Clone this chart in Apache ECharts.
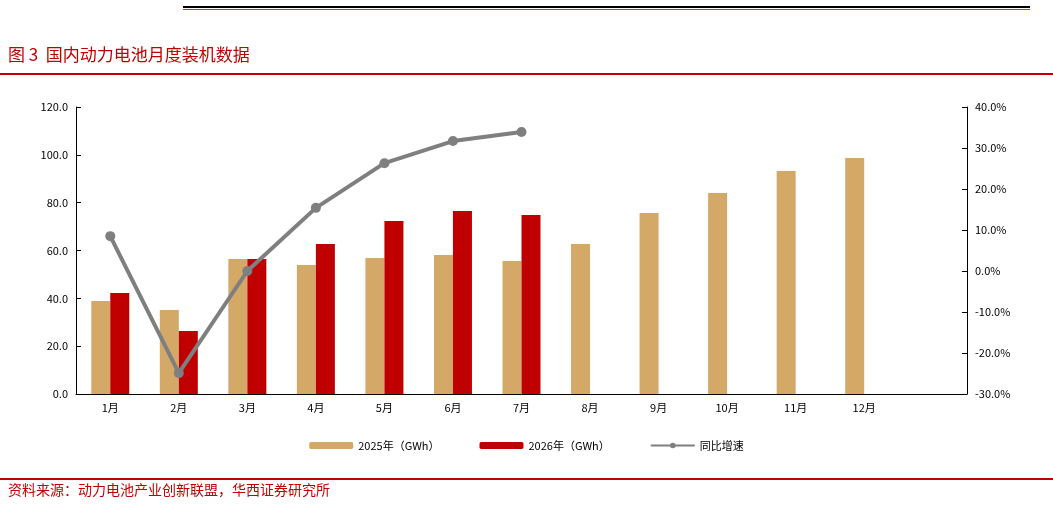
<!DOCTYPE html>
<html><head><meta charset="utf-8">
<script src="https://cdn.jsdelivr.net/npm/echarts@6/dist/echarts.min.js"></script>
<style>html,body{margin:0;padding:0;background:#fff}#c{width:1053px;height:506px}</style>
</head><body><div id="c"></div>
<script>
const categories = ['1月','2月','3月','4月','5月','6月','7月','8月','9月','10月','11月','12月',''];
const v2025 = [38.9,35.1,56.4,53.9,56.9,58.1,55.6,62.7,75.7,84.0,93.2,98.7,null];
const v2026 = [42.2,26.3,56.4,62.7,72.3,76.5,74.8,null,null,null,null,null,null];
const yoy = [8.5,-24.9,0.0,15.4,26.3,31.7,33.9,null,null,null,null,null,null];
const font = '"Noto Sans CJK SC", sans-serif';
const chart = echarts.init(document.getElementById('c'));
chart.setOption({
  animation:false,
  textStyle:{fontFamily:font},
  grid:{left:76,right:86,top:107,bottom:112},
  legend:{bottom:50,left:'center',itemWidth:44,itemHeight:7,itemGap:40,textStyle:{fontSize:11,color:'#000'},
    data:['2025年（GWh）','2026年（GWh）','同比增速']},
  xAxis:{type:'category',data:categories,axisTick:{show:false},
    axisLine:{lineStyle:{color:'#000'}},axisLabel:{color:'#000',fontSize:11}},
  yAxis:[
    {type:'value',min:0,max:120,interval:20,splitLine:{show:false},axisLine:{show:true,lineStyle:{color:'#000'}},
     axisTick:{show:true,inside:true},axisLabel:{color:'#000',fontSize:11,formatter:v=>v.toFixed(1)}},
    {type:'value',min:-30,max:40,interval:10,splitLine:{show:false},axisLine:{show:true,lineStyle:{color:'#000'}},
     axisTick:{show:true,inside:true},axisLabel:{color:'#000',fontSize:11,formatter:v=>v.toFixed(1)+'%'}}
  ],
  series:[
    {name:'2025年（GWh）',type:'bar',data:v2025,barWidth:19,barGap:'0%',itemStyle:{color:'#D4A967'}},
    {name:'2026年（GWh）',type:'bar',data:v2026,barWidth:19,itemStyle:{color:'#C00000'}},
    {name:'同比增速',type:'line',yAxisIndex:1,data:yoy,symbol:'circle',symbolSize:10,
     lineStyle:{color:'#7F7F7F',width:4},itemStyle:{color:'#7F7F7F'}}
  ],
  graphic:[
    {type:'rect',shape:{x:183,y:6,width:847,height:2},style:{fill:'#000'}},
    {type:'rect',shape:{x:183,y:9,width:847,height:1},style:{fill:'#7F6000'}},
    {type:'text',left:8,top:46,style:{text:'图 3  国内动力电池月度装机数据',fill:'#C00000',fontSize:17,fontFamily:font}},
    {type:'rect',shape:{x:0,y:73,width:1053,height:2},style:{fill:'#C00000'}},
    {type:'rect',shape:{x:0,y:478,width:1053,height:2},style:{fill:'#C00000'}},
    {type:'text',left:8,top:483,style:{text:'资料来源：动力电池产业创新联盟，华西证券研究所',fill:'#C00000',fontSize:14,fontFamily:font}}
  ]
});
</script></body></html>
